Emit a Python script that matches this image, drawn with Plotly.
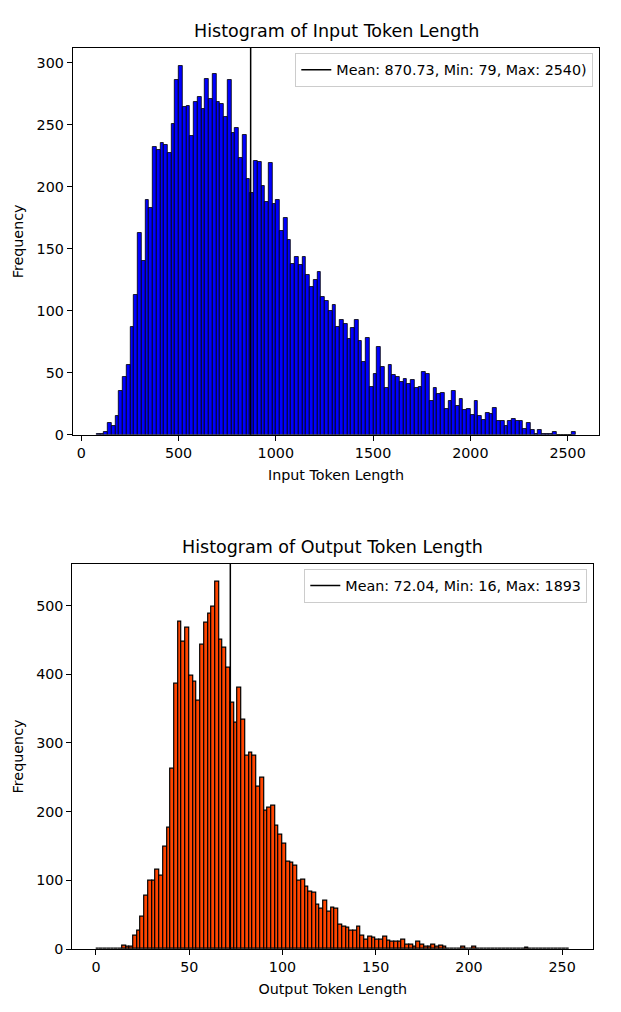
import numpy as np
import plotly.graph_objects as go

# input token histogram (128 bins from min to max), counts
in_counts = [1, 1, 2, 10, 7, 15, 35, 47, 56, 87, 113, 163, 140, 189, 183, 232,
             230, 235, 234, 227, 251, 286, 297, 264, 265, 241, 268, 272, 263, 287, 271, 291,
             268, 267, 256, 286, 243, 247, 223, 242, 206, 195, 221, 220, 201, 188, 219, 186,
             189, 164, 175, 157, 138, 143, 137, 143, 129, 119, 125, 131, 111, 108, 100, 105,
             87, 93, 89, 77, 86, 93, 76, 59, 78, 39, 49, 71, 55, 38, 56, 48,
             47, 43, 45, 41, 44, 38, 39, 51, 49, 27, 38, 33, 34, 21, 27, 35,
             23, 29, 20, 21, 16, 27, 15, 12, 18, 17, 22, 11, 11, 7, 11, 13,
             11, 11, 5, 10, 4, 1, 4, 1, 1, 1, 2, 0, 0, 0, 0, 2]
in_mean, in_min, in_max = 870.73, 79, 2540

# output token histogram (bins of 2 from 0 to 254)
out_counts = [0, 0, 0, 0, 0, 0, 0, 5, 4, 4, 20, 26, 47, 77, 100, 100,
              116, 106, 149, 176, 262, 386, 477, 447, 468, 398, 389, 361, 443, 475, 488, 498,
              534, 450, 439, 409, 358, 330, 380, 334, 282, 286, 282, 236, 249, 202, 205, 208,
              180, 167, 154, 127, 125, 121, 100, 101, 91, 84, 82, 65, 58, 71, 54, 60,
              58, 36, 33, 31, 26, 26, 33, 19, 14, 18, 16, 14, 13, 18, 12, 11,
              10, 10, 13, 7, 6, 4, 10, 6, 4, 3, 6, 3, 5, 3, 1, 1,
              1, 0, 4, 0, 1, 4, 0, 0, 0, 0, 0, 0, 0, 0, 0, 0,
              0, 0, 0, 2, 0, 0, 0, 0, 0, 0, 0, 0, 0, 0, 0]
out_bin_lo, out_bin_hi = 0, 254
out_mean, out_min, out_max = 72.04, 16, 1893

in_ticks = [0, 500, 1000, 1500, 2000, 2500]
in_yticks = [0, 50, 100, 150, 200, 250, 300]
out_ticks = [0, 50, 100, 150, 200, 250]
out_yticks = [0, 100, 200, 300, 400, 500]

W, H = 621, 1012
FONT = "DejaVu Sans"
FS = 14.3

in_edges = np.linspace(in_min, in_max, len(in_counts) + 1)
out_edges = np.linspace(out_bin_lo, out_bin_hi, len(out_counts) + 1)


def fx(px):
    return px / W


def fy(py):
    return 1 - py / H


fig = go.Figure()

fig.add_trace(go.Bar(x=(in_edges[:-1] + in_edges[1:]) / 2, y=in_counts,
                     width=np.diff(in_edges), marker=dict(color="#0000ff", line=dict(color="black", width=0.8)),
                     showlegend=False, xaxis="x", yaxis="y"))
fig.add_trace(go.Bar(x=(out_edges[:-1] + out_edges[1:]) / 2, y=out_counts,
                     width=np.diff(out_edges), marker=dict(color="#ff4500", line=dict(color="black", width=1.2)),
                     showlegend=False, xaxis="x2", yaxis="y2"))

# legend-only entries for the mean lines
fig.add_trace(go.Scatter(x=[None], y=[None], mode="lines", line=dict(color="black", width=1.5),
                         name=f"Mean: {in_mean}, Min: {in_min}, Max: {in_max})",
                         xaxis="x", yaxis="y", legend="legend"))
fig.add_trace(go.Scatter(x=[None], y=[None], mode="lines", line=dict(color="black", width=1.5),
                         name=f"Mean: {out_mean}, Min: {out_min}, Max: {out_max}",
                         xaxis="x2", yaxis="y2", legend="legend2"))

fig.add_shape(type="line", xref="x", yref="y domain", x0=in_mean, x1=in_mean, y0=0, y1=1,
              line=dict(color="black", width=1.5))
fig.add_shape(type="line", xref="x2", yref="y2 domain", x0=out_mean, x1=out_mean, y0=0, y1=1,
              line=dict(color="black", width=1.5))

axis_common = dict(showline=True, mirror=True, linecolor="black", linewidth=1,
                   ticks="outside", ticklen=5, tickwidth=1, tickcolor="black",
                   showgrid=False, zeroline=False, tickfont=dict(size=FS, color="black"))


def pad_range(lo, hi):
    m = 0.05 * (hi - lo)
    return [lo - m, hi + m]


top_dom_y = [fy(438.3), fy(48.3)]
bot_dom_y = [fy(956.7), fy(568.3)]
legend_style = dict(xanchor="right", yanchor="top", bgcolor="rgba(255,255,255,0.8)",
                    bordercolor="#cccccc", borderwidth=1, font=dict(size=FS, color="black"))

fig.update_layout(
    width=W, height=H, margin=dict(l=0, r=0, t=0, b=0),
    paper_bgcolor="white", plot_bgcolor="white",
    font=dict(family=FONT, color="black"),
    bargap=0,
    xaxis=dict(domain=[fx(72.7), fx(599.3)], range=pad_range(in_min, in_max), tickvals=in_ticks,
               title=dict(text="Input Token Length", font=dict(size=FS), standoff=9), anchor="y", **axis_common),
    yaxis=dict(domain=top_dom_y, range=[0, max(in_counts) * 1.05], tickvals=in_yticks,
               title=dict(text="Frequency", font=dict(size=FS), standoff=9), anchor="x", **axis_common),
    xaxis2=dict(domain=[fx(72.3), fx(593.3)], range=pad_range(out_bin_lo, out_bin_hi), tickvals=out_ticks,
                title=dict(text="Output Token Length", font=dict(size=FS), standoff=9), anchor="y2", **axis_common),
    yaxis2=dict(domain=bot_dom_y, range=[0, max(out_counts) * 1.05], tickvals=out_yticks,
                title=dict(text="Frequency", font=dict(size=FS), standoff=9), anchor="x2", **axis_common),
    legend=dict(x=fx(599.3 - 6), y=fy(53.3), **legend_style),
    legend2=dict(x=fx(593.3 - 6), y=fy(573.3), **legend_style),
    annotations=[
        dict(text="Histogram of Input Token Length", xref="paper", yref="paper",
             x=fx((72.7 + 599.3) / 2), y=top_dom_y[1] + 5 / H, xanchor="center", yanchor="bottom",
             showarrow=False, font=dict(size=17.5)),
        dict(text="Histogram of Output Token Length", xref="paper", yref="paper",
             x=fx((72.3 + 593.3) / 2), y=bot_dom_y[1] + 5 / H, xanchor="center", yanchor="bottom",
             showarrow=False, font=dict(size=17.5)),
    ],
)

# drop the browser's default body margin so the figure fills the window exactly
fig.write_html("out.html", config={"displayModeBar": False},
               post_script="document.body.style.margin = '0px';")
